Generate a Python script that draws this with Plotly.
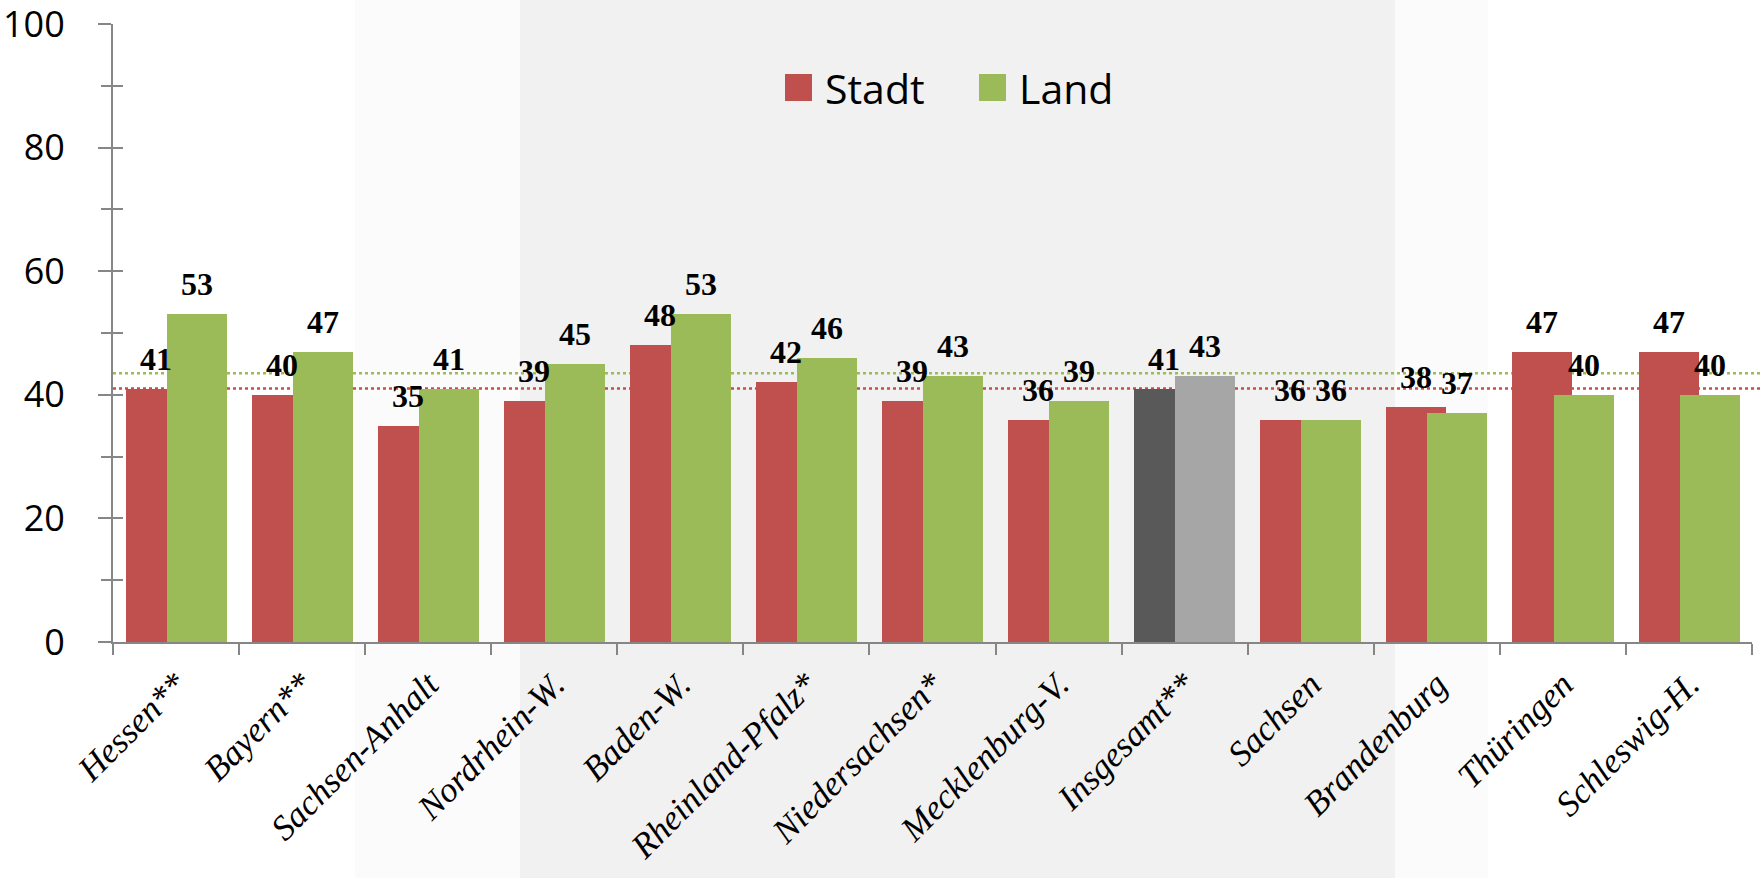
import plotly.graph_objects as go

# ---------------- data ----------------
categories = ["Hessen**", "Bayern**", "Sachsen-Anhalt", "Nordrhein-W.", "Baden-W.",
              "Rheinland-Pfalz*", "Niedersachsen*", "Mecklenburg-V.", "Insgesamt**",
              "Sachsen", "Brandenburg", "Thüringen", "Schleswig-H."]
stadt = [41, 40, 35, 39, 48, 42, 39, 36, 41, 36, 38, 47, 47]
land = [53, 47, 41, 45, 53, 46, 43, 39, 43, 36, 37, 40, 40]
stadt_avg = 41
land_avg = 43.5
y_ticks = [0, 20, 40, 60, 80, 100]

# ---------------- styling ----------------
W, H = 1761, 878
ML, MR, MT, MB = 113, 9, 24, 236
PW = W - ML - MR
PH = H - MT - MB

RED = "#C0504D"
GREEN = "#9BBB59"
DARK = "#595959"
LIGHT = "#A6A6A6"
AXIS = "#868686"

highlight = "Insgesamt**"
red_colors = [DARK if c == highlight else RED for c in categories]
green_colors = [LIGHT if c == highlight else GREEN for c in categories]

BAR_W = 0.476
RED_OFF = -0.40
GREEN_OFF = -0.074


def px_x(px):
    return (px - ML) / PW


def px_y(py):
    return (H - MB - py) / PH


fig = go.Figure()
fig.add_trace(go.Bar(x=categories, y=stadt, name="Stadt", marker_color=red_colors,
                     width=BAR_W, offset=RED_OFF, marker_line_width=0,
                     hoverinfo="skip", showlegend=False))
fig.add_trace(go.Bar(x=categories, y=land, name="Land", marker_color=green_colors,
                     width=BAR_W, offset=GREEN_OFF, marker_line_width=0,
                     hoverinfo="skip", showlegend=False))

# invisible overlay trace for second y axis (inside ticks)
fig.add_trace(go.Scatter(x=[categories[0]], y=[0], yaxis="y2", mode="markers",
                         marker_opacity=0, hoverinfo="skip", showlegend=False))

shapes = []
# background (faded map area approximation)
shapes.append(dict(type="rect", xref="paper", yref="paper",
                   x0=px_x(355), x1=px_x(1488), y0=px_y(H), y1=px_y(0),
                   fillcolor="#FCFBFC", line_width=0, layer="below"))
shapes.append(dict(type="rect", xref="paper", yref="paper",
                   x0=px_x(520), x1=px_x(1395), y0=px_y(H), y1=px_y(0),
                   fillcolor="#F1F1F1", line_width=0, layer="below"))
# average lines
for val, col in [(land_avg, GREEN), (stadt_avg, RED)]:
    shapes.append(dict(type="line", xref="paper", yref="y", x0=0, x1=px_x(W),
                       y0=val, y1=val, line=dict(color=col, width=2.5, dash="dot"),
                       layer="below"))

# legend drawn manually (big square markers)
SQ = 27
legend_items = [("Stadt", RED, 785), ("Land", GREEN, 979)]
annotations = []
for name, col, x0 in legend_items:
    shapes.append(dict(type="rect", xref="paper", yref="paper",
                       x0=px_x(x0), x1=px_x(x0 + SQ), y0=px_y(74 + SQ), y1=px_y(74),
                       fillcolor=col, line_width=0))
    annotations.append(dict(xref="paper", yref="paper", x=px_x(x0 + SQ + 11), y=px_y(87.5),
                            text=name, showarrow=False, xanchor="left", yanchor="middle",
                            font=dict(family="Open Sans", size=41, color="black")))

# value labels
label_font = dict(family="Liberation Serif", size=32, color="black", weight="bold")
for i, (s, l) in enumerate(zip(stadt, land)):
    annotations.append(dict(x=i + RED_OFF + BAR_W / 2, y=s, xref="x", yref="y", text=str(s),
                            showarrow=False, yanchor="bottom", yshift=10, font=label_font))
    annotations.append(dict(x=i + GREEN_OFF + BAR_W / 2, y=l, xref="x", yref="y", text=str(l),
                            showarrow=False, yanchor="bottom", yshift=10, font=label_font))

fig.update_layout(
    width=W, height=H, autosize=False,
    margin=dict(l=ML, r=MR, t=MT, b=MB, pad=0, autoexpand=False),
    paper_bgcolor="white", plot_bgcolor="rgba(0,0,0,0)",
    barmode="overlay", bargap=0,
    shapes=shapes, annotations=annotations,
    xaxis=dict(type="category", tickson="boundaries", ticks="outside", ticklen=11,
               tickwidth=2, tickcolor=AXIS, showline=True, linecolor=AXIS, linewidth=2,
               tickangle=-45, showgrid=False, zeroline=False, range=[-0.5, 12.5],
               tickfont=dict(family="Liberation Serif", size=35, color="black", style="italic"),
               ticklabelstandoff=6, ticklabeloverflow="allow", automargin=False),
    yaxis=dict(range=[0, 100], tickvals=y_ticks, ticks="outside", ticklen=13, tickwidth=2,
               tickcolor=AXIS, showline=True, linecolor=AXIS, linewidth=2,
               showgrid=False, zeroline=False, ticklabeloverflow="allow", automargin=False,
               minor=dict(dtick=10, ticks="outside", ticklen=10, tickwidth=2, tickcolor=AXIS),
               tickfont=dict(family="Open Sans", size=36, color="black"),
               ticklabelstandoff=26),
    yaxis2=dict(range=[0, 100], overlaying="y", side="left", tickvals=y_ticks, ticks="inside",
                ticklen=10, tickwidth=2, tickcolor=AXIS, showticklabels=False, automargin=False,
                showline=False, showgrid=False, zeroline=False,
                minor=dict(dtick=10, ticks="inside", ticklen=10, tickwidth=2, tickcolor=AXIS)),
)

fig.write_html("out.html", config={"displayModeBar": False},
               post_script="document.body.style.margin='0';")
